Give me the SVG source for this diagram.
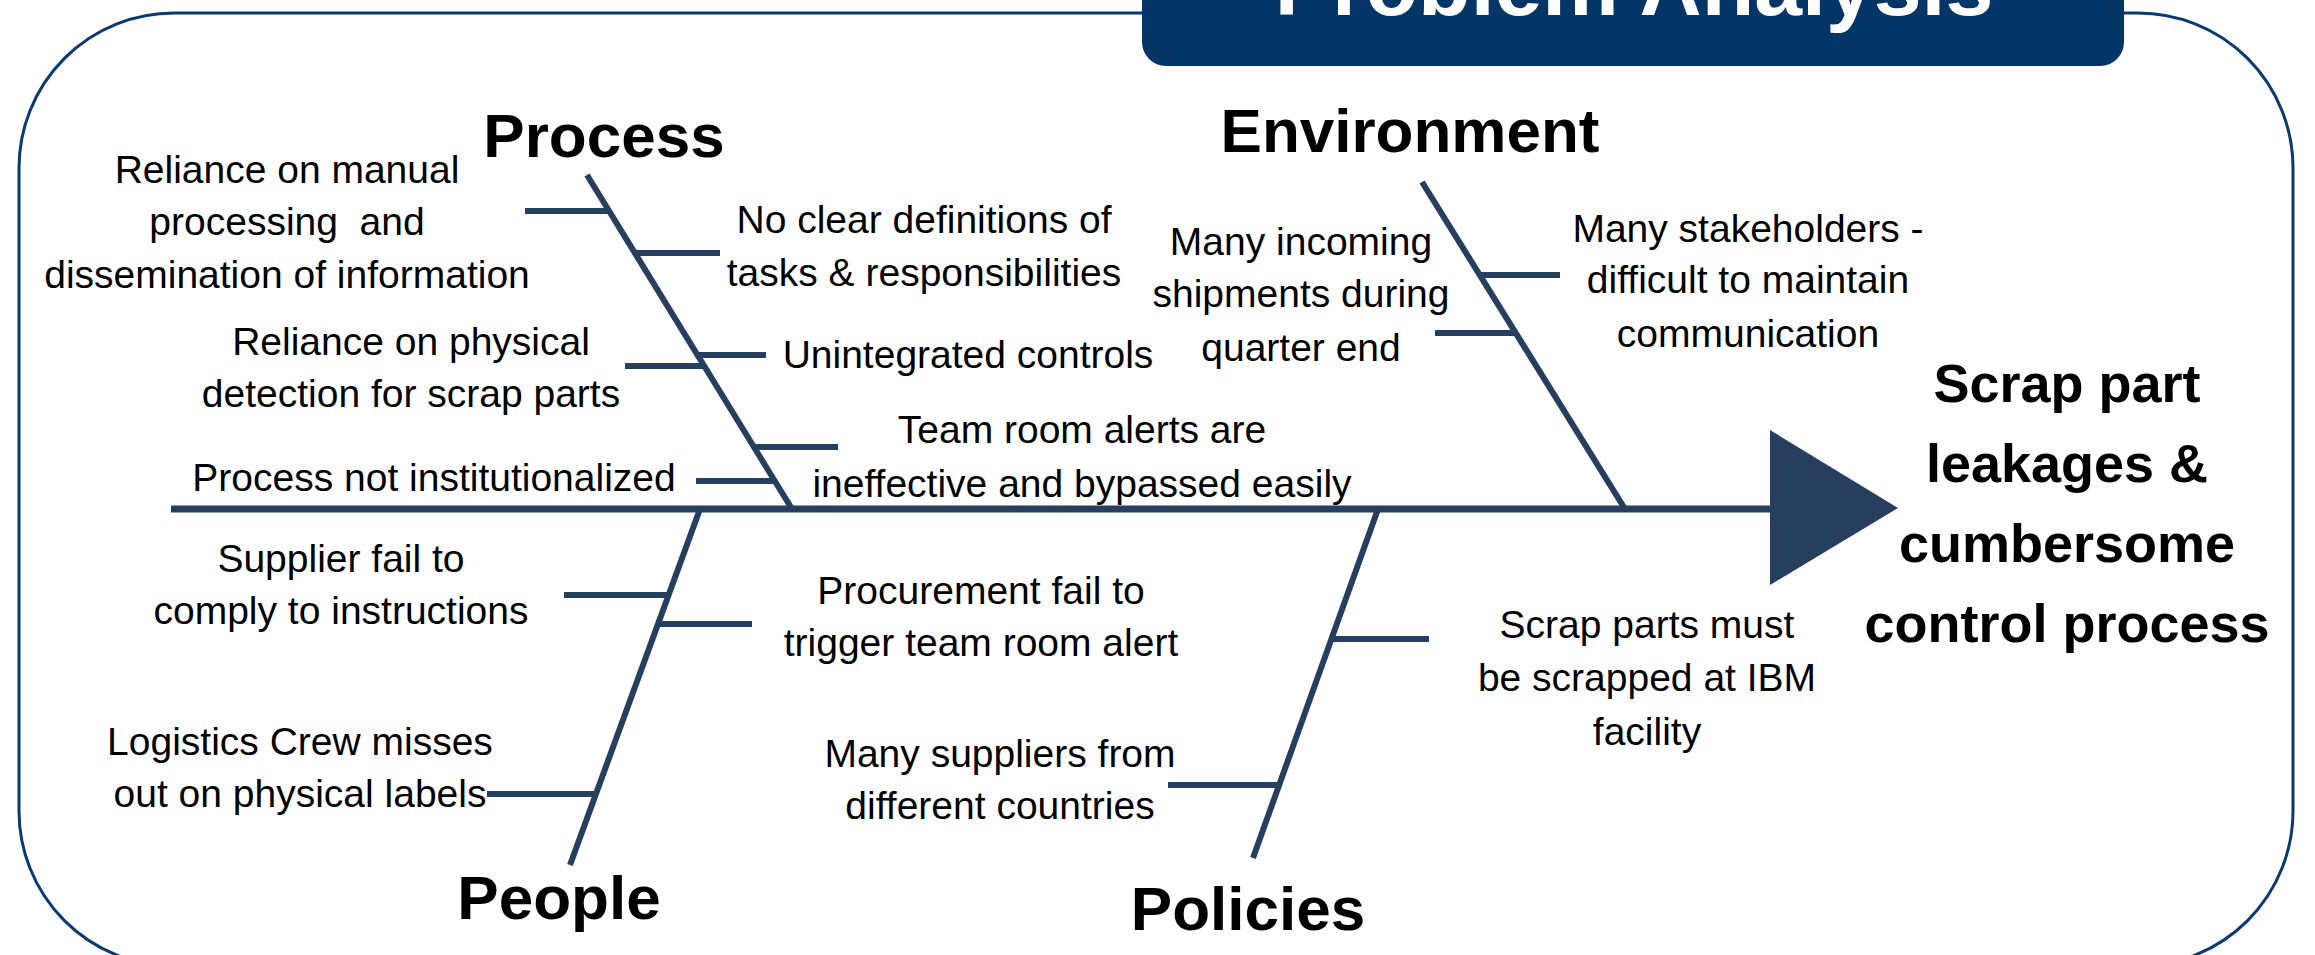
<svg xmlns="http://www.w3.org/2000/svg" width="2315" height="955" viewBox="0 0 2315 955">
<style>
.t{font-family:"Liberation Sans",Arial,sans-serif;font-size:39px;fill:#000;text-anchor:middle}
.h{font-family:"Liberation Sans",Arial,sans-serif;font-size:62px;font-weight:bold;fill:#000;text-anchor:middle}
.e{font-family:"Liberation Sans",Arial,sans-serif;font-size:54px;font-weight:bold;fill:#000;text-anchor:middle}
.bone{stroke:#273F5F;stroke-width:6;fill:none}
.spine{stroke:#273F5F;stroke-width:7;fill:none}
</style>
<rect width="2315" height="955" fill="#fff"/>
<rect id="frame" x="19" y="13" width="2274" height="953" rx="155" ry="155" fill="none" stroke="#0B3A6E" stroke-width="3"/>
<g id="title">
<rect x="1142" y="-60" width="982" height="126" rx="24" ry="24" fill="#033567"/>
<text x="1634" y="15" style="font-family:'Liberation Sans',Arial,sans-serif;font-size:86px;font-weight:bold;fill:#fff;text-anchor:middle">Problem Analysis</text>
</g>
<g id="connectors">
<line class="spine" x1="171" y1="509" x2="1775" y2="509"/>
<polygon points="1770,430 1898,508 1770,585" fill="#273F5F"/>
<line class="bone" x1="587" y1="175" x2="792" y2="509"/>
<line class="bone" x1="525" y1="211" x2="609" y2="211"/>
<line class="bone" x1="635" y1="253" x2="720" y2="253"/>
<line class="bone" x1="625" y1="366" x2="704" y2="366"/>
<line class="bone" x1="697" y1="355" x2="766" y2="355"/>
<line class="bone" x1="754" y1="447" x2="838" y2="447"/>
<line class="bone" x1="696" y1="481" x2="775" y2="481"/>
<line class="bone" x1="1422" y1="182" x2="1625" y2="509"/>
<line class="bone" x1="1479" y1="275" x2="1560" y2="275"/>
<line class="bone" x1="1435" y1="333" x2="1516" y2="333"/>
<line class="bone" x1="700" y1="509" x2="570" y2="865"/>
<line class="bone" x1="564" y1="595" x2="669" y2="595"/>
<line class="bone" x1="658" y1="624" x2="752" y2="624"/>
<line class="bone" x1="487" y1="794" x2="596" y2="794"/>
<line class="bone" x1="1378" y1="509" x2="1253" y2="858"/>
<line class="bone" x1="1331" y1="639" x2="1429" y2="639"/>
<line class="bone" x1="1168" y1="785" x2="1280" y2="785"/>
</g>
<g id="process"><text class="h" x="604" y="157">Process</text></g>
<g id="environment"><text class="h" x="1410" y="152">Environment</text></g>
<g id="people"><text class="h" x="559" y="919">People</text></g>
<g id="policies"><text class="h" x="1248" y="930">Policies</text></g>
<g id="effect">
<text class="e" x="2067" y="402">Scrap part</text>
<text class="e" x="2067" y="482">leakages &amp;</text>
<text class="e" x="2067" y="562">cumbersome</text>
<text class="e" x="2067" y="642">control process</text>
</g>
<g id="cause-manual">
<text class="t" x="287" y="183">Reliance on manual</text>
<text class="t" x="287" y="235" xml:space="preserve">processing  and</text>
<text class="t" x="287" y="288">dissemination of information</text>
</g>
<g id="cause-physical">
<text class="t" x="411" y="355">Reliance on physical</text>
<text class="t" x="411" y="407">detection for scrap parts</text>
</g>
<g id="cause-institutionalized"><text class="t" x="434" y="491">Process not institutionalized</text></g>
<g id="cause-definitions">
<text class="t" x="924" y="233">No clear definitions of</text>
<text class="t" x="924" y="286">tasks &amp; responsibilities</text>
</g>
<g id="cause-unintegrated"><text class="t" x="968" y="368">Unintegrated controls</text></g>
<g id="cause-teamroom">
<text class="t" x="1082" y="443">Team room alerts are</text>
<text class="t" x="1082" y="497">ineffective and bypassed easily</text>
</g>
<g id="cause-shipments">
<text class="t" x="1301" y="255">Many incoming</text>
<text class="t" x="1301" y="307">shipments during</text>
<text class="t" x="1301" y="361">quarter end</text>
</g>
<g id="cause-stakeholders">
<text class="t" x="1748" y="242">Many stakeholders -</text>
<text class="t" x="1748" y="293">difficult to maintain</text>
<text class="t" x="1748" y="347">communication</text>
</g>
<g id="cause-supplier">
<text class="t" x="341" y="572">Supplier fail to</text>
<text class="t" x="341" y="624">comply to instructions</text>
</g>
<g id="cause-procurement">
<text class="t" x="981" y="604">Procurement fail to</text>
<text class="t" x="981" y="656">trigger team room alert</text>
</g>
<g id="cause-logistics">
<text class="t" x="300" y="755">Logistics Crew misses</text>
<text class="t" x="300" y="807">out on physical labels</text>
</g>
<g id="cause-suppliers">
<text class="t" x="1000" y="767">Many suppliers from</text>
<text class="t" x="1000" y="819">different countries</text>
</g>
<g id="cause-scrap">
<text class="t" x="1647" y="638">Scrap parts must</text>
<text class="t" x="1647" y="691">be scrapped at IBM</text>
<text class="t" x="1647" y="745">facility</text>
</g>
</svg>
